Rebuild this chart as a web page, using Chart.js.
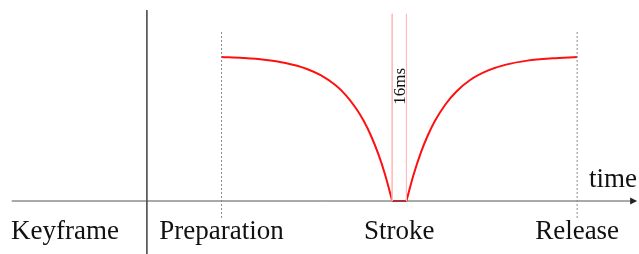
<!DOCTYPE html>
<html lang="en">
<head>
  <meta charset="UTF-8">
  <title>Keyframe timing</title>
  <script src="https://cdn.jsdelivr.net/npm/chart.js"></script>
  <style>
    body { margin: 0; background: #fff; }
    #wrap { width: 639px; height: 254px; }
  </style>
</head>
<body>
  <div id="wrap"><canvas id="timing"></canvas></div>

  <script>
    // time in arbitrary units: Preparation = 0, Release = 100
    const prepX = [0, 6, 12, 18, 24, 28, 32, 35, 38, 40, 42, 44, 46, 48];
    const prepY = [1, 0.993, 0.981, 0.958, 0.917, 0.872, 0.805, 0.734, 0.637, 0.555, 0.455, 0.332, 0.183, 0];
    const holdX = [48, 52];
    const holdY = [0, 0];
    const releaseX = [52, 54, 56, 58, 60, 63, 66, 70, 75, 80, 86, 93, 100];
    const releaseY = [0, 0.182, 0.333, 0.455, 0.555, 0.672, 0.759, 0.842, 0.907, 0.947, 0.975, 0.991, 1];

    const phaseTicks = [0, 50, 100];
    const phaseLabels = ['Preparation', 'Stroke', 'Release'];
    const rowLabel = 'Keyframe';
    const rowLabelX = -44;
    const separatorX = -21;
    const strokeWindow = [48, 52];
    const windowLabel = '16ms';
    const axisLabel = 'time';

    const xRange = [-62.3, 117.4];
    const yRange = [-0.368, 1.396];

    const pts = (xs, ys) => xs.map((x, i) => ({ x: x, y: ys[i] }));

    function vline(x, y0, y1, color, dash) {
      return {
        data: [{ x: x, y: y0 }, { x: x, y: y1 }],
        borderColor: color, borderWidth: 1, borderDash: dash || [],
        pointRadius: 0, fill: false
      };
    }

    function redLine(data) {
      return {
        data: data,
        borderColor: '#ff1010', borderWidth: 2, pointRadius: 0,
        cubicInterpolationMode: 'monotone'
      };
    }

    const datasets = [
      vline(separatorX, 1.326, yRange[0], '#555'),
      vline(phaseTicks[0], 1.174, -0.118, '#888', [2, 2]),
      vline(phaseTicks[2], 1.174, -0.118, '#888', [2, 2]),
      vline(strokeWindow[0], 1.30, 0, '#ffbcbc'),
      vline(strokeWindow[1], 1.30, 0, '#ffbcbc'),
      {
        data: [{ x: -59, y: 0 }, { x: 114.9, y: 0 }],
        borderColor: '#555', borderWidth: 1, pointRadius: 0
      },
      redLine(pts(prepX, prepY)),
      redLine(pts(holdX, holdY)),
      redLine(pts(releaseX, releaseY))
    ];

    // arrow head and all the texts
    const labelsPlugin = {
      id: 'labels',
      afterDatasetsDraw(chart) {
        const ctx = chart.ctx;
        const xs = chart.scales.x, ys = chart.scales.y;
        const y0 = ys.getPixelForValue(0);
        const base = xs.getPixelForValue(114.9);

        ctx.save();
        ctx.fillStyle = '#222';
        ctx.beginPath();
        ctx.moveTo(base, y0 - 3.5);
        ctx.lineTo(base + 7, y0);
        ctx.lineTo(base, y0 + 3.5);
        ctx.closePath();
        ctx.fill();

        ctx.fillStyle = '#111';
        ctx.font = '27px "Liberation Serif", serif';
        ctx.textBaseline = 'alphabetic';
        ctx.textAlign = 'center';
        const baseY = ys.getPixelForValue(-0.266);
        phaseTicks.forEach((t, i) => {
          ctx.fillText(phaseLabels[i], xs.getPixelForValue(t), baseY);
        });
        ctx.fillText(rowLabel, xs.getPixelForValue(rowLabelX), baseY);

        ctx.textAlign = 'right';
        ctx.fillText(axisLabel, 637, ys.getPixelForValue(0.097));

        ctx.font = '17px "Liberation Serif", serif';
        ctx.textAlign = 'center';
        ctx.textBaseline = 'middle';
        const mid = xs.getPixelForValue((strokeWindow[0] + strokeWindow[1]) / 2);
        ctx.translate(mid + 1, ys.getPixelForValue(0.797));
        ctx.rotate(-Math.PI / 2);
        ctx.fillText(windowLabel, 0, 0);
        ctx.restore();
      }
    };

    new Chart(document.getElementById('timing'), {
      type: 'line',
      data: { datasets: datasets },
      options: {
        responsive: true,
        maintainAspectRatio: false,
        animation: false,
        layout: { padding: 0 },
        plugins: { legend: { display: false }, tooltip: { enabled: false } },
        scales: {
          x: { type: 'linear', min: xRange[0], max: xRange[1], display: false },
          y: { min: yRange[0], max: yRange[1], display: false }
        }
      },
      plugins: [labelsPlugin]
    });
  </script>
</body>
</html>
